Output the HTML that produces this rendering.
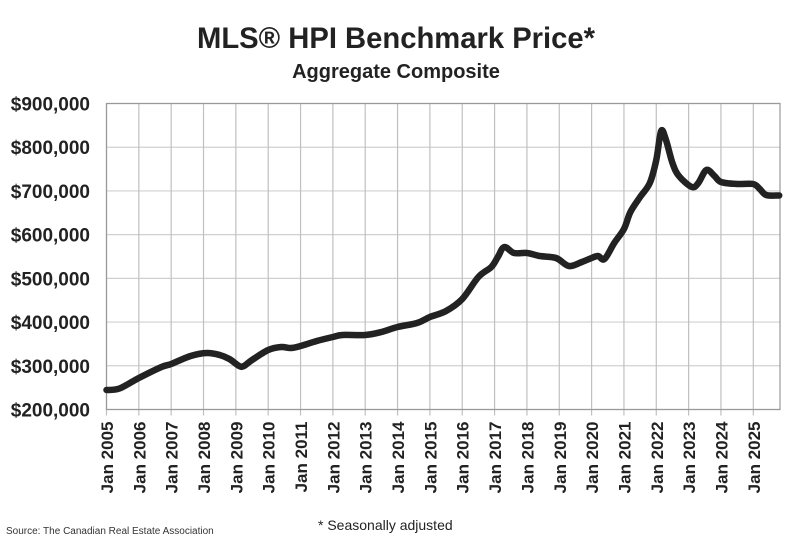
<!DOCTYPE html>
<html><head><meta charset="utf-8"><style>
body{margin:0;background:#fff;width:792px;height:542px;overflow:hidden;font-family:"Liberation Sans",sans-serif}
</style></head><body>
<svg id="s" width="792" height="542" xmlns="http://www.w3.org/2000/svg" font-family="Liberation Sans, sans-serif">
<text x="396" y="48" text-anchor="middle" font-size="30" font-weight="bold" fill="#222" textLength="398" lengthAdjust="spacingAndGlyphs">MLS® HPI Benchmark Price*</text>
<text x="396" y="78" text-anchor="middle" font-size="20" font-weight="bold" fill="#222">Aggregate Composite</text>
<g id="grid"></g>
<g id="lab" font-size="19" font-weight="bold" fill="#222"></g>
<path id="ln" fill="none" stroke="#222" stroke-width="6.5" stroke-linejoin="round" stroke-linecap="round"/>
<text x="6" y="534" font-size="10" fill="#333">Source: The Canadian Real Estate Association</text>
<text x="318" y="530" font-size="14" fill="#222">* Seasonally adjusted</text>
</svg>
<script>
const L=106.5,R=780,T=103.5,B=409.5,yw=32.34;
let g='',lab='';
for(let i=0;i<=7;i++){const y=T+i*(B-T)/7;g+=`<line x1="${L}" x2="${R}" y1="${y}" y2="${y}" stroke="#d0d0d0" stroke-width="1.2"/>`;
lab+=`<text x="90" y="${y+7}" text-anchor="end">$${9-i}00,000</text>`;}
for(let k=0;k<=20;k++){const x=L+k*yw;g+=`<line x1="${x}" x2="${x}" y1="${T}" y2="${B+6}" stroke="#c0c0c0" stroke-width="1.2"/>`;
lab+=`<text transform="translate(${x+6.5},${B+12}) rotate(-90)" text-anchor="end" font-size="17">Jan ${2005+k}</text>`;}
g+=`<rect x="${L}" y="${T}" width="${R-L}" height="${B-T}" fill="none" stroke="#999" stroke-width="1.2"/>`;
document.getElementById('grid').innerHTML=g;document.getElementById('lab').innerHTML=lab;
const d=[[2005,390],[2005.4,388.5],[2006,378],[2006.7,367],[2007,364],[2007.6,356],[2008.1,353],[2008.5,355],[2008.8,359],[2009.1,366],[2009.25,366],[2009.5,360],[2010,350],[2010.4,347],[2010.7,348],[2011,346],[2011.5,341],[2012,337],[2012.3,335],[2013,335],[2013.5,332],[2014,327],[2014.6,323],[2015,317],[2015.5,311],[2016,299],[2016.5,277],[2016.9,267],[2017.1,257],[2017.3,247],[2017.6,253],[2018,253],[2018.4,256],[2018.9,258],[2019.3,266],[2019.7,262],[2020,258],[2020.2,256],[2020.4,259],[2020.7,243],[2021,229],[2021.2,212],[2021.5,197],[2021.8,183],[2022.0,160],[2022.15,131],[2022.3,140],[2022.5,163],[2022.7,176],[2023.1,187],[2023.3,183],[2023.55,170],[2023.8,176],[2024,182],[2024.5,184],[2025,184],[2025.2,189],[2025.4,195],[2025.8,195.5]];
const p=d.map(a=>[L+(a[0]-2005)*yw,a[1]]);
let s=`M${p[0][0]},${p[0][1]}`;
for(let i=0;i<p.length-1;i++){const p0=p[Math.max(i-1,0)],p1=p[i],p2=p[i+1],p3=p[Math.min(i+2,p.length-1)];
s+=` C${p1[0]+(p2[0]-p0[0])/6},${p1[1]+(p2[1]-p0[1])/6} ${p2[0]-(p3[0]-p1[0])/6},${p2[1]-(p3[1]-p1[1])/6} ${p2[0]},${p2[1]}`;}
document.getElementById('ln').setAttribute('d',s);
</script>
</body></html>
